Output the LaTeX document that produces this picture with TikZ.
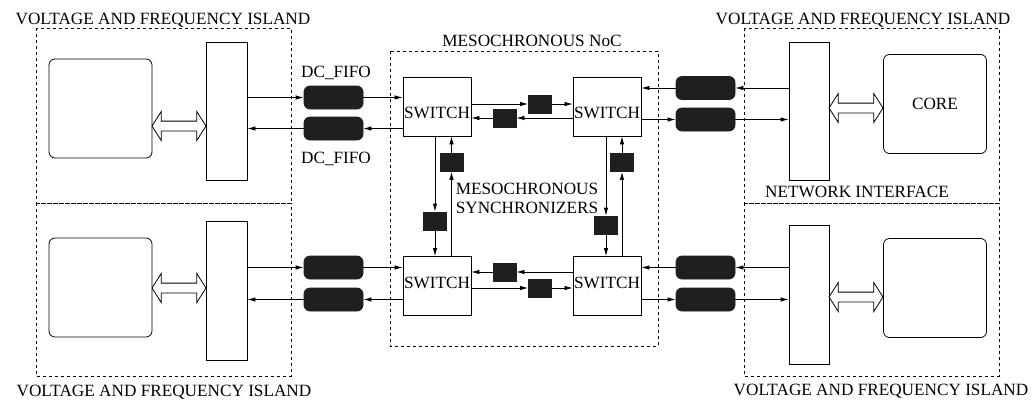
\documentclass[tikz,border=0pt]{standalone}
\usepackage{fontspec}
\setmainfont{Liberation Serif}
\usetikzlibrary{arrows.meta,shapes.arrows}

\begin{document}
\begin{tikzpicture}[
  x=1pt, y=-1pt,
  font=\fontsize{17.2}{19}\selectfont,
  line width=0.8pt,
  island/.style={draw, dash pattern=on 3pt off 3pt, line width=0.7pt},
  core/.style={draw, rounded corners=6pt, minimum width=103pt, minimum height=99pt, inner sep=0pt},
  netif/.style={draw, minimum width=41pt, minimum height=138pt, inner sep=0pt},
  fifo/.style={draw=black!88, fill=black!88, rounded corners=6pt, minimum width=59pt, minimum height=23pt, inner sep=0pt},
  sync/.style={draw=black!88, fill=black!88, minimum width=23pt, minimum height=18pt, inner sep=0pt},
  switch/.style={draw, minimum width=68pt, minimum height=59pt, inner sep=0pt},
  link/.style={-{Latex[length=8pt,width=4.5pt]}},
  dblarrow/.style={double arrow, draw, minimum height=54pt, text height=4.5pt, text depth=4.5pt,
    double arrow head extend=9.5pt, double arrow tip angle=115, inner sep=0pt}
]
\useasboundingbox (0,0) rectangle (1035,400);

% islands and NoC
\draw[island] (36,28) rectangle (291,203);
\draw[island] (36,203) rectangle (291,376);
\draw[island] (744,28) rectangle (999,203);
\draw[island] (744,203) rectangle (999,376);
\draw[island] (390,51) rectangle (658,346);

% cores and network interfaces
\node[core] (core1) at (100.5,108.5) {};
\node[core] (core3) at (100.5,287.5) {};
\node[core] (core2) at (935,104) {CORE};
\node[core] (core4) at (935,288) {};
\node[netif] (ni1) at (226.5,111) {};
\node[netif, minimum height=139pt] (ni3) at (226.5,290.5) {};
\node[netif, minimum width=40pt] (ni2) at (809,111) {};
\node[netif, minimum width=40pt, minimum height=139pt] (ni4) at (809,294.5) {};

\node[dblarrow] (a1) at (179,126) {};
\node[dblarrow] (a3) at (179,288) {};
\node[dblarrow] (a2) at (856,108) {};
\node[dblarrow] (a4) at (856,297) {};

% dual clock fifos
\node[fifo] (f1a) at (333.5,97.5) {};
\node[fifo] (f1b) at (333.5,128.5) {};
\node[fifo] (f3a) at (333.5,267.5) {};
\node[fifo] (f3b) at (333.5,299.5) {};
\node[fifo] (f2a) at (705.5,88) {};
\node[fifo] (f2b) at (705.5,119.5) {};
\node[fifo] (f4a) at (705.5,267.5) {};
\node[fifo] (f4b) at (705.5,299.5) {};

% switches
\node[switch, text height=23pt, text depth=0pt] (sw1) at (437,106.5) {SWITCH};
\node[switch, text height=23pt, text depth=0pt] (sw2) at (607,106.5) {SWITCH};
\node[switch, text height=5pt, text depth=0pt] (sw3) at (437,286) {SWITCH};
\node[switch, text height=5pt, text depth=0pt] (sw4) at (607,286) {SWITCH};

% synchronizers
\node[sync] (h1) at (540,104) {};
\node[sync] (h2) at (504.5,118) {};
\node[sync] (h3) at (504.5,272) {};
\node[sync] (h4) at (540,288) {};
\node[sync] (v1) at (435,221) {};
\node[sync] (v2) at (451.5,162.5) {};
\node[sync] (v3) at (606,225) {};
\node[sync] (v4) at (622,162.5) {};

% island links
\draw[link] (ni1.east |- f1a) -- (f1a.west);
\draw[link] (f1a.east) -- (sw1.west |- f1a);
\draw[link] (sw1.west |- f1b) -- (f1b.east);
\draw[link] (f1b.west) -- (ni1.east |- f1b);
\draw[link] (ni3.east |- f3a) -- (f3a.west);
\draw[link] (f3a.east) -- (sw3.west |- f3a);
\draw[link] (sw3.west |- f3b) -- (f3b.east);
\draw[link] (f3b.west) -- (ni3.east |- f3b);
\draw[link] (ni2.west |- f2a) -- (f2a.east);
\draw[link] (f2a.west) -- (sw2.east |- f2a);
\draw[link] (sw2.east |- f2b) -- (f2b.west);
\draw[link] (f2b.east) -- (ni2.west |- f2b);
\draw[link] (ni4.west |- f4a) -- (f4a.east);
\draw[link] (f4a.west) -- (sw4.east |- f4a);
\draw[link] (sw4.east |- f4b) -- (f4b.west);
\draw[link] (f4b.east) -- (ni4.west |- f4b);

% switch links
\draw[link] (sw1.east |- h1) -- (h1.west);
\draw[link] (h1.east) -- (sw2.west |- h1);
\draw[link] (sw2.west |- h2) -- (h2.east);
\draw[link] (h2.west) -- (sw1.east |- h2);
\draw[link] (sw4.west |- h3) -- (h3.east);
\draw[link] (h3.west) -- (sw3.east |- h3);
\draw[link] (sw3.east |- h4) -- (h4.west);
\draw[link] (h4.east) -- (sw4.west |- h4);
\draw[link] (sw1.south -| v1) -- (v1.north);
\draw[link] (v1.south) -- (sw3.north -| v1);
\draw[link] (sw3.north -| v2) -- (v2.south);
\draw[link] (v2.north) -- (sw1.south -| v2);
\draw[link] (sw2.south -| v3) -- (v3.north);
\draw[link] (v3.south) -- (sw4.north -| v3);
\draw[link] (sw4.north -| v4) -- (v4.south);
\draw[link] (v4.north) -- (sw2.south -| v4);

% labels
\node[anchor=base] (lbltl) at (163,24) {VOLTAGE AND FREQUENCY ISLAND};
\node[anchor=base] (lbltr) at (863,24) {VOLTAGE AND FREQUENCY ISLAND};
\node[anchor=base] (lblbl) at (164,396) {VOLTAGE AND FREQUENCY ISLAND};
\node[anchor=base] (lblbr) at (881,395) {VOLTAGE AND FREQUENCY ISLAND};
\node[anchor=base] (lblnoc) at (532,46) {MESOCHRONOUS NoC};
\node[anchor=base] (lblni) at (857,197) {NETWORK INTERFACE};
\node[anchor=base] (lblf1) at (336,77) {DC\_FIFO};
\node[anchor=base] (lblf2) at (336,163) {DC\_FIFO};
\node[align=center] (lblsync) at (527,198) {MESOCHRONOUS\\SYNCHRONIZERS};
\end{tikzpicture}
\end{document}
